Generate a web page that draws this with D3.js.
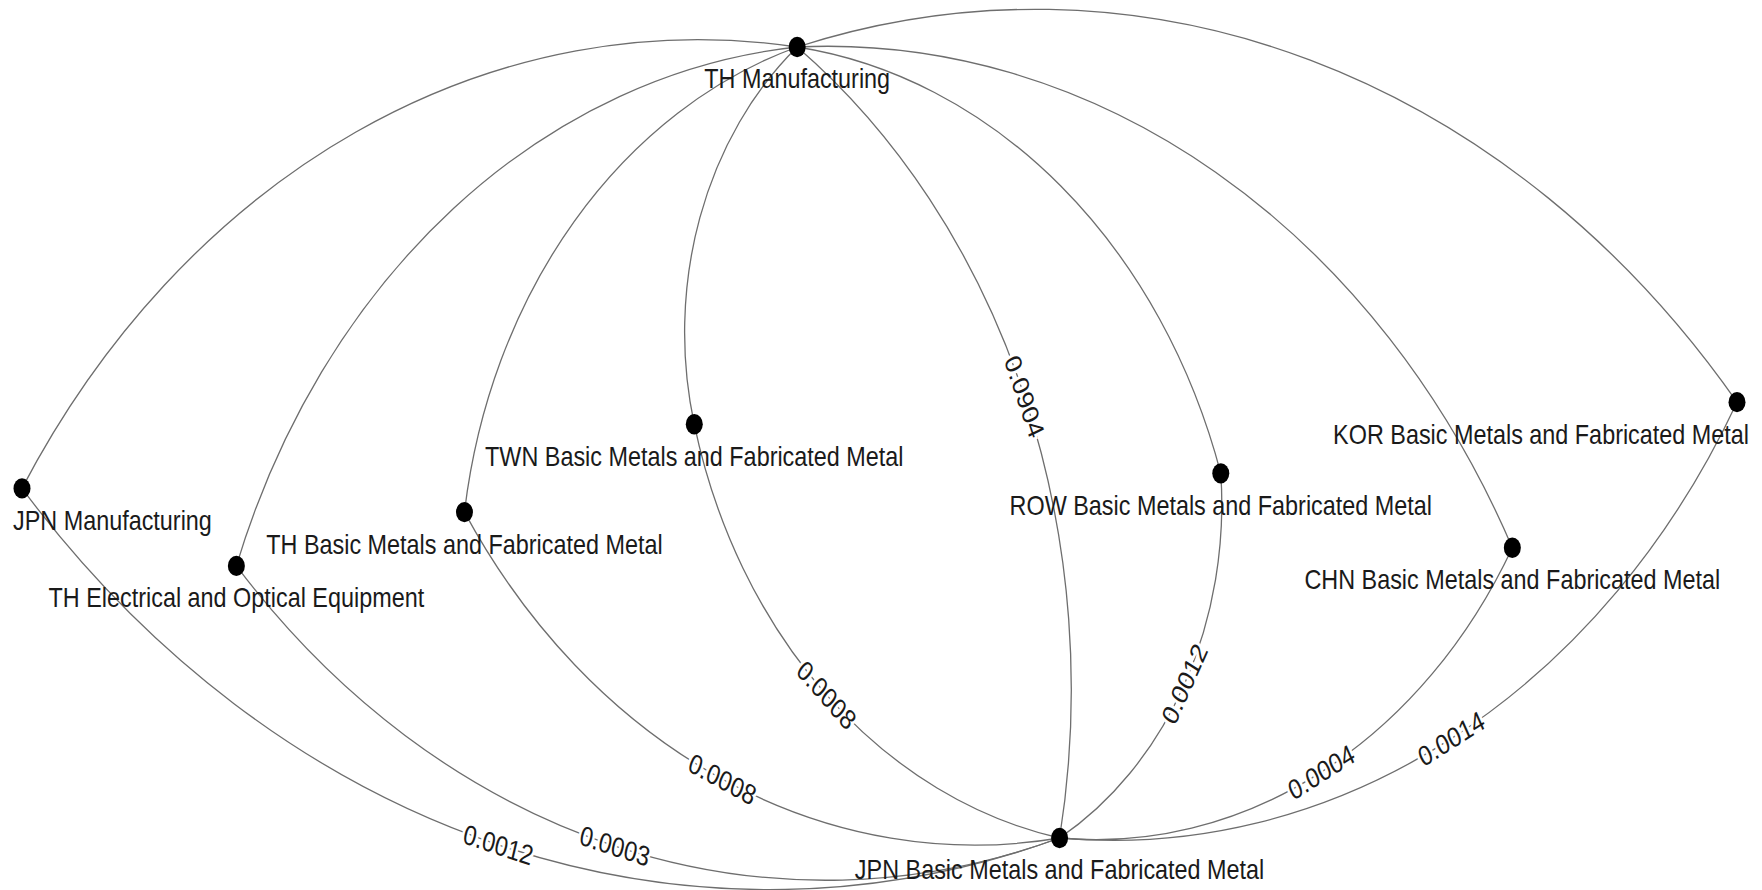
<!DOCTYPE html>
<html>
<head>
<meta charset="utf-8">
<script src="https://cdn.jsdelivr.net/npm/d3@7"></script>
<style>
  html, body { margin: 0; padding: 0; background: #fff; }
  svg { display: block; }
  text { font-family: "Liberation Sans", Arial, sans-serif; }
</style>
</head>
<body>
<script>
// nodes, layout position in 0-100 units
const nodeNames = [
  "TH Manufacturing",
  "JPN Manufacturing",
  "TH Electrical and Optical Equipment",
  "TH Basic Metals and Fabricated Metal",
  "TWN Basic Metals and Fabricated Metal",
  "ROW Basic Metals and Fabricated Metal",
  "CHN Basic Metals and Fabricated Metal",
  "KOR Basic Metals and Fabricated Metal",
  "JPN Basic Metals and Fabricated Metal"
];
const nodeX = [45.2, 0, 12.5, 25.8, 39.2, 69.9, 86.9, 100, 60.5];
const nodeY = [0, 55.8, 65.6, 58.8, 47.7, 53.9, 63.3, 44.9, 100];

// links and their weights (null = unlabeled)
const linkFrom = [
  "TH Manufacturing", "JPN Manufacturing",
  "TH Manufacturing", "TH Electrical and Optical Equipment",
  "TH Manufacturing", "TH Basic Metals and Fabricated Metal",
  "TH Manufacturing", "TWN Basic Metals and Fabricated Metal",
  "TH Manufacturing",
  "TH Manufacturing", "ROW Basic Metals and Fabricated Metal",
  "TH Manufacturing", "CHN Basic Metals and Fabricated Metal",
  "TH Manufacturing", "KOR Basic Metals and Fabricated Metal"
];
const linkTo = [
  "JPN Manufacturing", "JPN Basic Metals and Fabricated Metal",
  "TH Electrical and Optical Equipment", "JPN Basic Metals and Fabricated Metal",
  "TH Basic Metals and Fabricated Metal", "JPN Basic Metals and Fabricated Metal",
  "TWN Basic Metals and Fabricated Metal", "JPN Basic Metals and Fabricated Metal",
  "JPN Basic Metals and Fabricated Metal",
  "ROW Basic Metals and Fabricated Metal", "JPN Basic Metals and Fabricated Metal",
  "CHN Basic Metals and Fabricated Metal", "JPN Basic Metals and Fabricated Metal",
  "KOR Basic Metals and Fabricated Metal", "JPN Basic Metals and Fabricated Metal"
];
const linkValues = [
  null, "0.0012",
  null, "0.0003",
  null, "0.0008",
  null, "0.0008",
  "0.0904",
  null, "0.0012",
  null, "0.0004",
  null, "0.0014"
];

const width = 1762, height = 890;
const stretch = 1.2;      // picture is squeezed horizontally / drawn taller
const bend = 0.93;        // arc radius relative to chord length
const fontSize = 23.4;

const x = d3.scaleLinear().domain([0, 100]).range([22, 1737]);
const y = d3.scaleLinear().domain([0, 100]).range([47 / stretch, 838 / stretch]);

const nodes = nodeNames.map((name, i) => ({ name, x: x(nodeX[i]), y: y(nodeY[i]) }));
const byName = new Map(nodes.map(d => [d.name, d]));
const links = linkFrom.map((s, i) => ({
  source: byName.get(s), target: byName.get(linkTo[i]), value: linkValues[i]
}));

const cx = d3.mean(nodes, d => d.x), cy = d3.mean(nodes, d => d.y);

// arc geometry: bulge away from the centre of the graph
links.forEach(l => {
  const dx = l.target.x - l.source.x, dy = l.target.y - l.source.y;
  const c = Math.hypot(dx, dy);
  const r = bend * c;
  const sag = r - Math.sqrt(r * r - c * c / 4);
  const mx = (l.source.x + l.target.x) / 2, my = (l.source.y + l.target.y) / 2;
  const nx = dy / c, ny = -dx / c;           // left normal, sweep = 1
  const p1 = [mx + nx * sag, my + ny * sag], p0 = [mx - nx * sag, my - ny * sag];
  const d1 = Math.hypot(p1[0] - cx, p1[1] - cy), d0 = Math.hypot(p0[0] - cx, p0[1] - cy);
  l.sweep = d1 >= d0 ? 1 : 0;
  l.mid = l.sweep ? p1 : p0;
  l.r = r;
  let a = Math.atan2(dy, dx) * 180 / Math.PI;
  if (a > 90) a -= 180;
  if (a <= -90) a += 180;
  l.angle = a;
});

const svg = d3.select("body").append("svg")
  .attr("width", width)
  .attr("height", height)
  .style("background", "#fff");

const g = svg.append("g").attr("transform", `scale(1,${stretch})`);

g.append("g").selectAll("path")
  .data(links)
  .join("path")
  .attr("d", d => `M${d.source.x},${d.source.y}A${d.r},${d.r} 0 0,${d.sweep} ${d.target.x},${d.target.y}`)
  .attr("fill", "none")
  .attr("stroke", "#6e6e6e")
  .attr("stroke-width", 1.3)
  .attr("vector-effect", "non-scaling-stroke");

g.append("g").selectAll("text")
  .data(links.filter(d => d.value))
  .join("text")
  .attr("transform", d => `translate(${d.mid[0]},${d.mid[1]}) rotate(${d.angle})`)
  .attr("text-anchor", "middle")
  .attr("dy", "0.35em")
  .attr("font-size", fontSize)
  .attr("fill", "#1a1a1a")
  .attr("stroke", "#fff")
  .attr("stroke-width", 5)
  .attr("paint-order", "stroke")
  .text(d => d.value);

g.append("g").selectAll("circle")
  .data(nodes)
  .join("circle")
  .attr("cx", d => d.x)
  .attr("cy", d => d.y)
  .attr("r", 8.5)
  .attr("fill", "#000");

const labels = g.append("g").selectAll("text")
  .data(nodes)
  .join("text")
  .attr("text-anchor", "middle")
  .attr("y", d => d.y + 34.5)
  .attr("font-size", fontSize)
  .attr("fill", "#1a1a1a")
  .text(d => d.name);

// keep labels inside the picture
labels.attr("x", function(d) {
  const w = this.getComputedTextLength();
  return Math.max(13 + w / 2, Math.min(width - 13 - w / 2, d.x));
});
</script>
</body>
</html>
